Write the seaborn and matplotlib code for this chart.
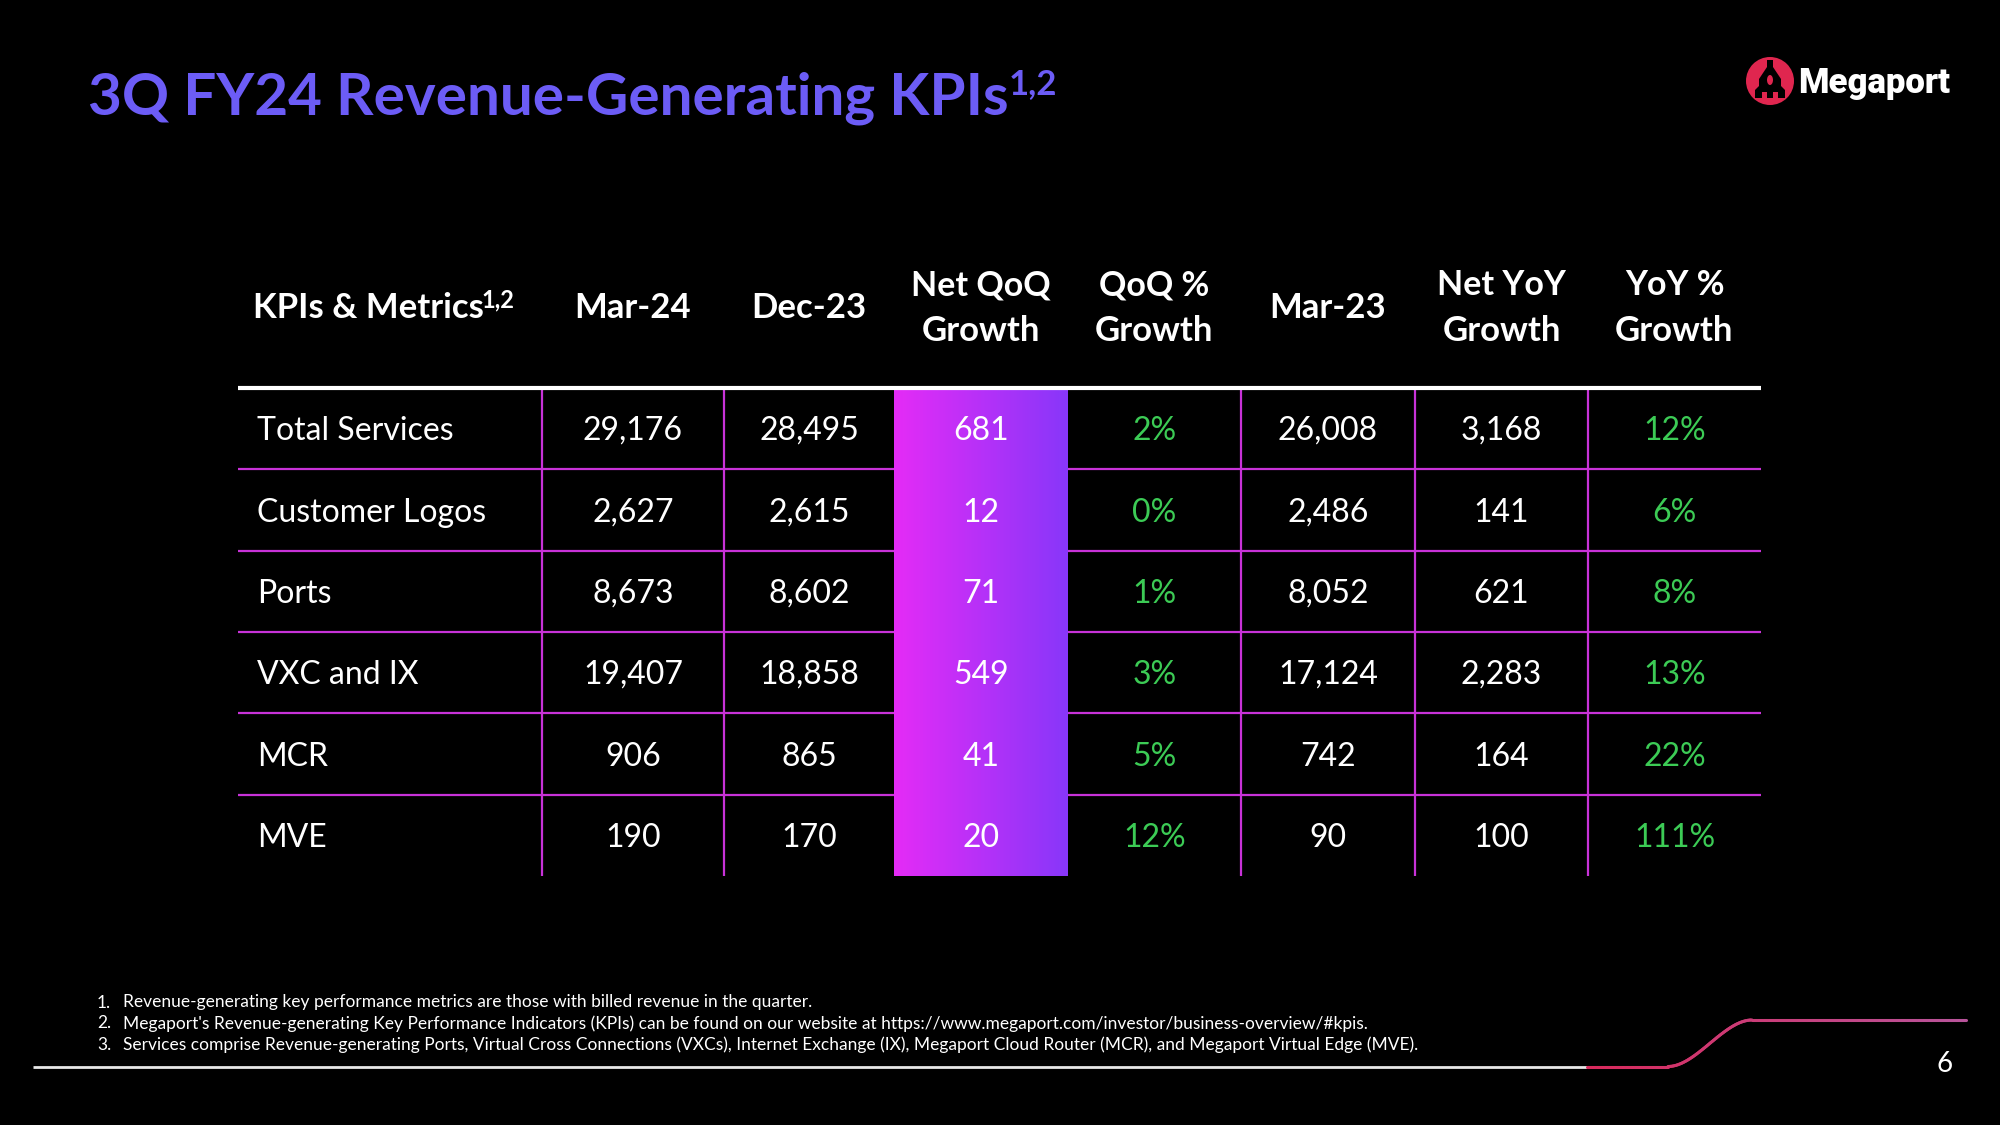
import matplotlib
matplotlib.use("Agg")
import matplotlib.pyplot as plt
from matplotlib.collections import LineCollection
from matplotlib.colors import LinearSegmentedColormap, to_rgb
from matplotlib.patches import Circle, Ellipse, Polygon
import numpy as np
import pandas as pd
import seaborn as sns

# table contents
metrics = ['Total Services', 'Customer Logos', 'Ports', 'VXC and IX', 'MCR', 'MVE']
mar_24 = [29176, 2627, 8673, 19407, 906, 190]
dec_23 = [28495, 2615, 8602, 18858, 865, 170]
net_qoq = [681, 12, 71, 549, 41, 20]
qoq_pct = [2, 0, 1, 3, 5, 12]
mar_23 = [26008, 2486, 8052, 17124, 742, 90]
net_yoy = [3168, 141, 621, 2283, 164, 100]
yoy_pct = [12, 6, 8, 13, 22, 111]

headers = ['Mar-24', 'Dec-23', 'Net QoQ\nGrowth', 'QoQ %\nGrowth', 'Mar-23', 'Net YoY\nGrowth', 'YoY %\nGrowth']
footnotes = [
    'Revenue-generating key performance metrics are those with billed revenue in the quarter.',
    "Megaport's Revenue-generating Key Performance Indicators (KPIs) can be found on our website at https://www.megaport.com/investor/business-overview/#kpis.",
    'Services comprise Revenue-generating Ports, Virtual Cross Connections (VXCs), Internet Exchange (IX), Megaport Cloud Router (MCR), and Megaport Virtual Edge (MVE).',
]

df = pd.DataFrame({
    'Mar-24': mar_24, 'Dec-23': dec_23, 'net_qoq': net_qoq, 'qoq': qoq_pct,
    'Mar-23': mar_23, 'net_yoy': net_yoy, 'yoy': yoy_pct,
}, index=metrics)

sns.set_theme(style='dark')
plt.rcParams['font.family'] = ['Lato', 'DejaVu Sans']

WHITE = '#ffffff'
GREEN = '#3ccb55'
GRID = '#c832d8'
TITLE = '#6c5cf6'

# column edges and row edges in pixels
col_x = [238, 542, 724, 894, 1068, 1241, 1415, 1588, 1761]
row_y = [388, 469, 551, 632, 713, 795, 876]

fig = plt.figure(figsize=(20, 11.25), dpi=100, facecolor='black')

# gradient column
ax_grad = fig.add_axes([col_x[3] / 2000, 1 - row_y[-1] / 1125,
                        (col_x[4] - col_x[3]) / 2000, (row_y[-1] - row_y[0]) / 1125], zorder=0)
grad_cmap = LinearSegmentedColormap.from_list('qoq', ['#e42bf6', '#8836f9'])
xx, yy = np.meshgrid(np.linspace(0, 1, 120), np.linspace(0, 1, 120))
sns.heatmap(xx, ax=ax_grad, cmap=grad_cmap, cbar=False, xticklabels=False, yticklabels=False,
            vmin=0, vmax=1, rasterized=True)
ax_grad.set_axis_off()

ax = fig.add_axes([0, 0, 1, 1], zorder=1)
ax.set_xlim(0, 2000)
ax.set_ylim(1125, 0)
ax.set_aspect('equal')
ax.axis('off')
ax.patch.set_alpha(0)

# title
ax.text(88, 98, '3Q FY24 Revenue-Generating KPIs', color=TITLE, fontsize=42, fontweight='bold',
        va='center', ha='left')
ax.text(1009, 84, '1,2', color=TITLE, fontsize=25, fontweight='bold', va='center', ha='left')

# logo
ax.add_patch(Circle((1770, 81), 24, color='#e0264f', lw=0))
rocket = [(1767, 60), (1773, 60), (1773, 67), (1781, 79), (1781, 86), (1785, 90), (1785, 98),
          (1778, 98), (1778, 92), (1773, 92), (1773, 98), (1767, 98), (1767, 92), (1762, 92),
          (1762, 98), (1755, 98), (1755, 90), (1759, 86), (1759, 79), (1767, 67)]
ax.add_patch(Polygon(rocket, closed=True, color='black', lw=0))
ax.add_patch(Ellipse((1770, 80), 6, 10, color='#e0264f', lw=0))
ax.text(1798, 83, 'Megaport', color=WHITE, fontsize=25, fontweight='black', family='Roboto',
        va='center', ha='left')

# header row
ax.text(253, 308, 'KPIs & Metrics', color=WHITE, fontsize=25, fontweight='bold', va='center', ha='left')
ax.text(481, 300, '1,2', color=WHITE, fontsize=17, fontweight='bold', va='center', ha='left')
for i, head in enumerate(headers):
    cx = (col_x[i + 1] + col_x[i + 2]) / 2
    lines = head.split('\n')
    if len(lines) == 1:
        ax.text(cx, 308, head, color=WHITE, fontsize=25, fontweight='bold', va='center', ha='center')
    else:
        ax.text(cx, 285, lines[0], color=WHITE, fontsize=24.5, fontweight='bold', va='center', ha='center')
        ax.text(cx, 331, lines[1], color=WHITE, fontsize=25, fontweight='bold', va='center', ha='center')

# grid
for y in row_y[1:-1]:
    ax.hlines(y, col_x[0], col_x[3], color=GRID, lw=1.6)
    ax.hlines(y, col_x[4], col_x[8], color=GRID, lw=1.6)
for i in [1, 2, 5, 6, 7]:
    ax.vlines(col_x[i], row_y[0], row_y[-1], color=GRID, lw=1.6)
ax.hlines(row_y[0], col_x[0], col_x[8], color=WHITE, lw=3)

# body
for r, name in enumerate(df.index):
    cy = (row_y[r] + row_y[r + 1]) / 2 + 2.5
    ax.text(257, cy, name, color=WHITE, fontsize=23, va='center', ha='left')
    for c, col in enumerate(df.columns):
        cx = (col_x[c + 1] + col_x[c + 2]) / 2
        val = df.loc[name, col]
        if col in ('qoq', 'yoy'):
            ax.text(cx, cy, f'{val}%', color=GREEN, fontsize=23, va='center', ha='center')
        else:
            ax.text(cx, cy, f'{val:,}', color=WHITE, fontsize=23, va='center', ha='center')

# footnotes
for i, note in enumerate(footnotes):
    y = 1002.5 + i * 21
    ax.text(97, y, f'{i + 1}.', color=WHITE, fontsize=12.5, va='center', ha='left')
    ax.text(123, y, note, color=WHITE, fontsize=12.5, va='center', ha='left')

# footer swoosh
ax.hlines(1066.5, 33, 1587, color='#e8e8e8', lw=2)
t = np.linspace(0, 1, 60)
curve_x = 1668 + 84 * t
curve_y = 1066.5 - 46.5 * (t * t * (3 - 2 * t))
px = np.concatenate([[1587], curve_x, [1966]])
py = np.concatenate([[1066.5], curve_y, [1020]])
# resample the long runs so the colour fades along the line
px_f = np.concatenate([np.linspace(1587, 1668, 20)[:-1], curve_x, np.linspace(1752, 1966, 40)[1:]])
py_f = np.interp(px_f, px, py)
segs = np.stack([np.column_stack([px_f[:-1], py_f[:-1]]), np.column_stack([px_f[1:], py_f[1:]])], axis=1)
c0, c1 = np.array(to_rgb('#d92a5c')), np.array(to_rgb('#b8559c'))
frac = ((px_f[:-1] - 1587) / (1966 - 1587))[:, None]
ax.add_collection(LineCollection(segs, colors=c0 + (c1 - c0) * frac, linewidths=2.2, capstyle='round'))

ax.text(1945, 1064, '6', color=WHITE, fontsize=20, va='center', ha='center')

fig.savefig('out.png', dpi=100, facecolor='black')
